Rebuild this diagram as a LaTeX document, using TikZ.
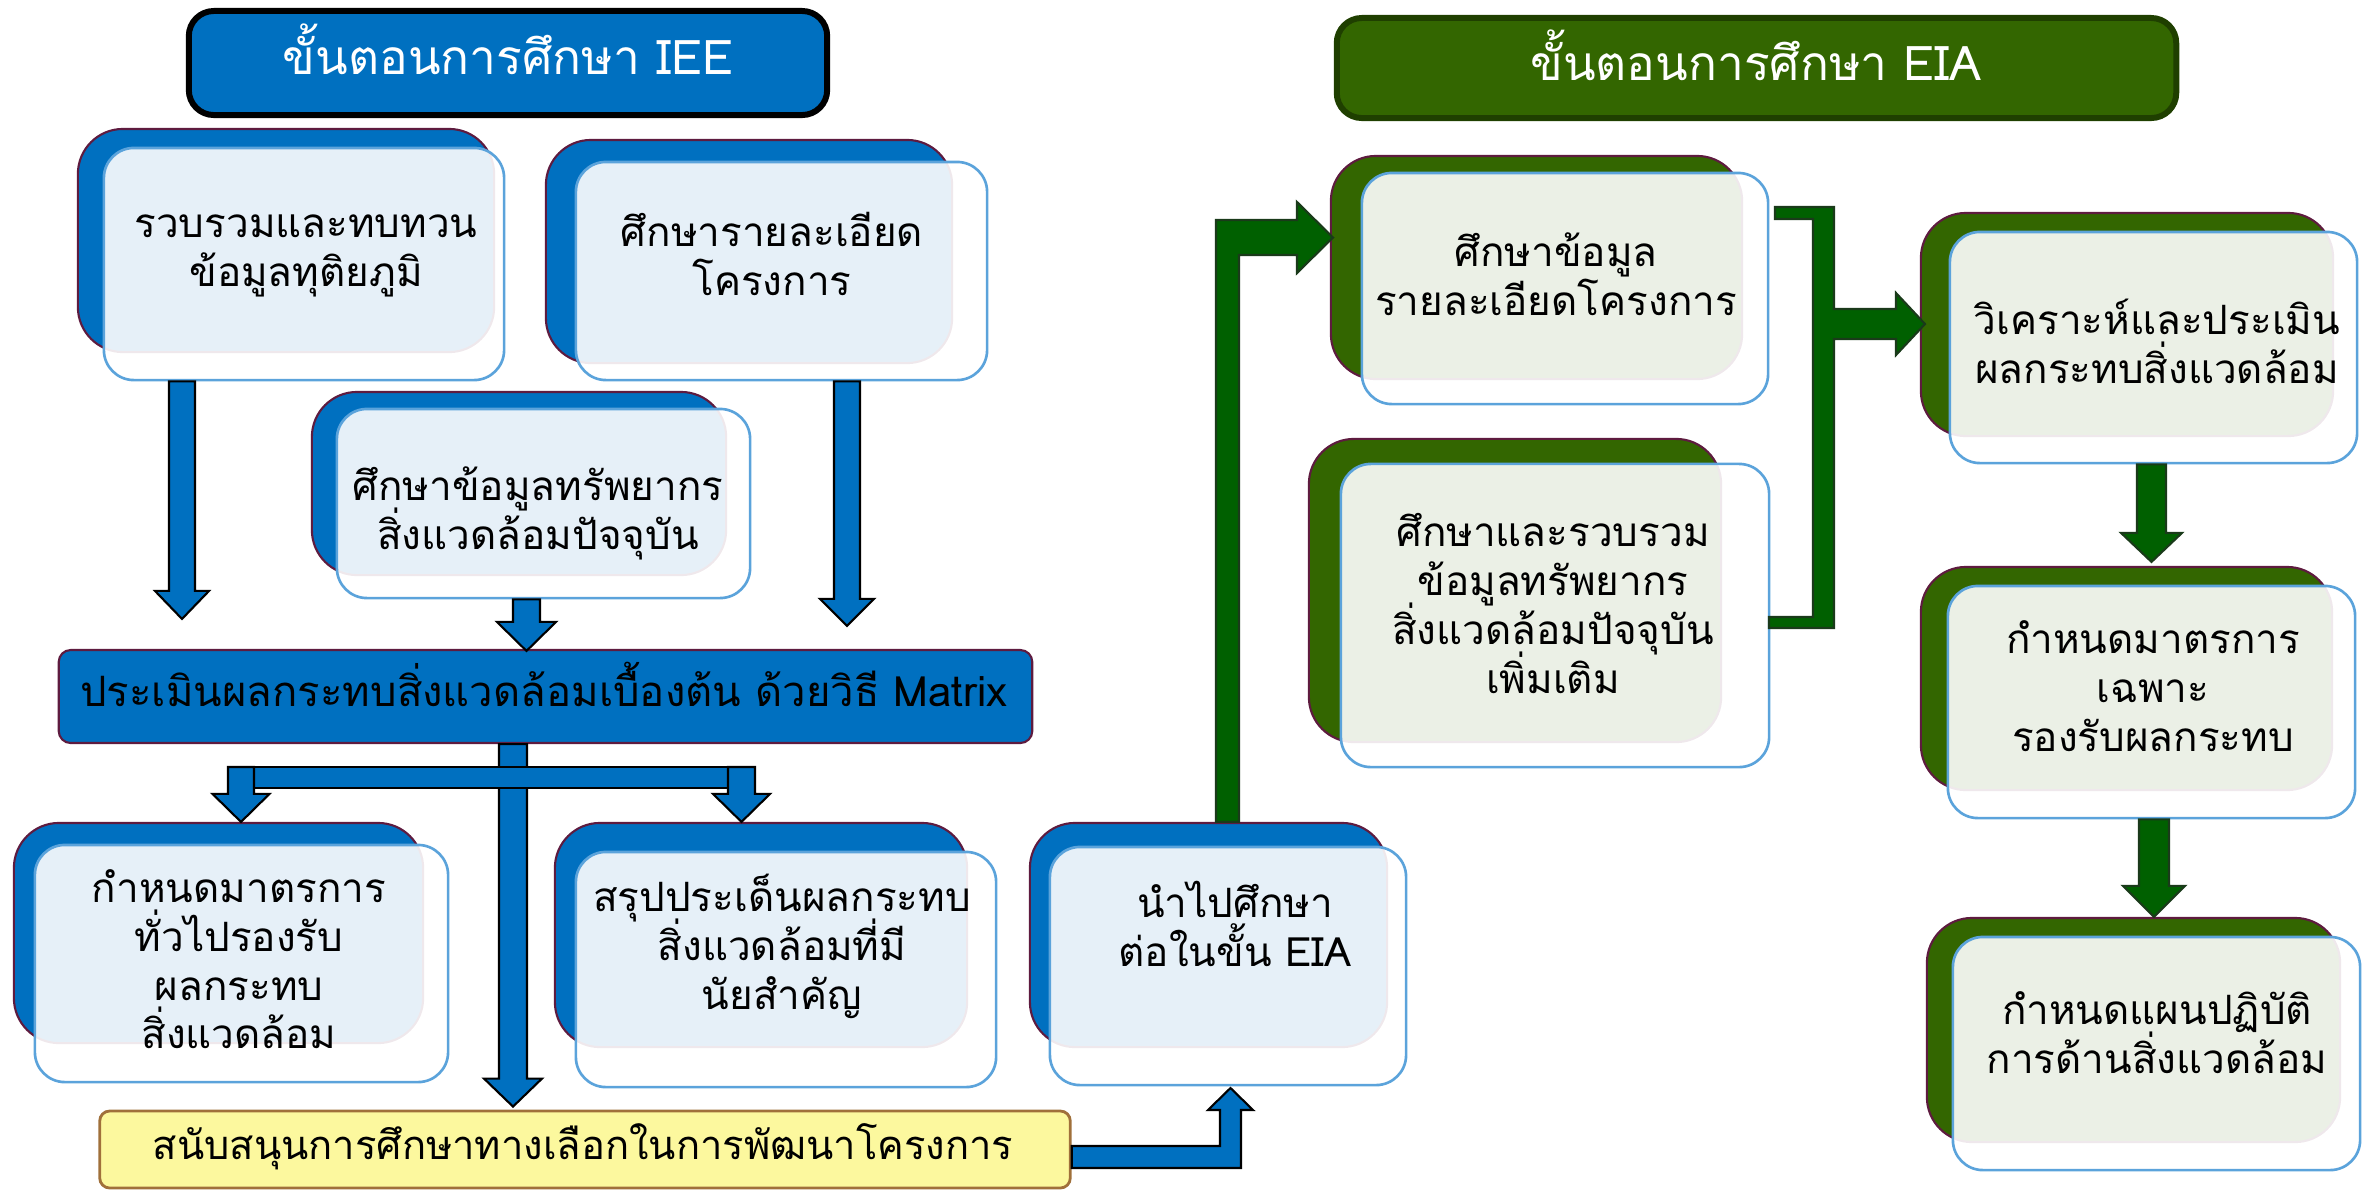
\documentclass[tikz,border=0pt]{standalone}
\usepackage{fontspec}
\newfontfamily\thaifont[Script=Thai]{Loma}
\usetikzlibrary{calc}
\definecolor{ieeblue}{HTML}{0070C0}
\definecolor{backline}{HTML}{5E1B3F}
\definecolor{frontline}{HTML}{5BA3DB}
\definecolor{eiagreen}{HTML}{336600}
\definecolor{eiatitleline}{HTML}{1F3F00}
\definecolor{arrowgreen}{HTML}{006000}
\definecolor{arrowgreenline}{HTML}{1A3A1A}
\definecolor{yellowfill}{HTML}{FCF89E}
\definecolor{yellowline}{HTML}{A0703A}
\newcommand\tstrut{\rule{0pt}{1.3em}}
\newcommand\bstrut{\rule[-0.75em]{0pt}{0pt}}
\newcommand\cardfont{\thaifont\fontsize{11.5}{13.9}\selectfont\lineskiplimit-50pt\relax\lineskip0pt\relax}
\newcommand\blkdown[6]{%
  \draw[#1] ($(#2)+(-#4,0)$) -- ($(#2)+(#4,0)$) -- ($(#3)+(#4,-#6)$) -- ($(#3)+(#5,-#6)$) -- (#3) -- ($(#3)+(-#5,-#6)$) -- ($(#3)+(-#4,-#6)$) -- cycle;}
\tikzset{
  strutted/.style={inner sep=0pt, execute at begin node={\tstrut}, execute at end node={\bstrut}},
  backbox/.style={draw=backline, line width=0.6pt, rounded corners=0.45cm, inner sep=0pt},
  frontbox/.style={draw=frontline, line width=0.75pt, fill=white, fill opacity=0.9, rounded corners=0.3cm, inner sep=0pt},
  cardtext/.style={inner sep=0pt, align=center, text=black, yshift=-0.04cm, font=\cardfont},
  titlebox/.style={rounded corners=0.25cm, line width=1.7pt, inner sep=0pt},
  titletext/.style={strutted, text=white, font=\thaifont\fontsize{13.6}{16}\selectfont},
  bluearrow/.style={fill=ieeblue, draw=black, line width=0.6pt},
  greenarrow/.style={fill=arrowgreen, draw=arrowgreenline, line width=0.6pt},
}
\begin{document}
\begin{tikzpicture}[x=0.01cm, y=-0.01cm]
\useasboundingbox (0,0) rectangle (2369,1196);
% titles
\node[titlebox, fill=ieeblue, draw=black, minimum width=6.38cm, minimum height=1.04cm] (ieetitle) at (508,63) {};
\node[titletext] (ieetitletext) at (508,61) {ขั้นตอนการศึกษา IEE};
\node[titlebox, fill=eiagreen, draw=eiatitleline, minimum width=8.39cm, minimum height=1.00cm] (eiatitle) at (1756.5,68) {};
\node[titletext] (eiatitletext) at (1756,67) {ขั้นตอนการศึกษา EIA};
% IEE cards
\node[backbox, fill=ieeblue, minimum width=4.16cm, minimum height=2.23cm] (Aback) at (286,240.5) {};
\node[frontbox, minimum width=4.00cm, minimum height=2.32cm] (Afront) at (304,264) {};
\node[cardtext] (Atext) at (306,247) {\tstrut รวบรวมและทบทวน\\ข้อมูลทุติยภูมิ\bstrut};
\node[backbox, fill=ieeblue, minimum width=4.06cm, minimum height=2.23cm] (Bback) at (749,251.5) {};
\node[frontbox, minimum width=4.11cm, minimum height=2.18cm] (Bfront) at (781.5,271) {};
\node[cardtext] (Btext) at (772,256) {\tstrut ศึกษารายละเอียด\\โครงการ\bstrut};
\node[backbox, fill=ieeblue, minimum width=4.14cm, minimum height=1.83cm] (Cback) at (519,483.5) {};
\node[frontbox, minimum width=4.13cm, minimum height=1.89cm] (Cfront) at (543.5,503.5) {};
\node[cardtext] (Ctext) at (538,509.5) {\tstrut ศึกษาข้อมูลทรัพยากร\\สิ่งแวดล้อมปัจจุบัน\bstrut};
% matrix
\node[draw=backline, fill=ieeblue, line width=0.6pt, rounded corners=0.12cm, minimum width=9.73cm, minimum height=0.93cm, inner sep=0pt] (matrix) at (545.5,696.5) {};
\node[strutted, text=black, font=\thaifont\fontsize{11.9}{14}\selectfont] (matrixtext) at (544,694.5) {ประเมินผลกระทบสิ่งแวดล้อมเบื้องต้น ด้วยวิธี Matrix};
% bottom IEE cards
\node[backbox, fill=ieeblue, minimum width=4.09cm, minimum height=2.20cm] (Dback) at (218.5,933) {};
\node[frontbox, minimum width=4.13cm, minimum height=2.37cm] (Dfront) at (241.5,963.5) {};
\node[cardtext] (Dtext) at (239,960.5) {\tstrut กำหนดมาตรการ\\ทั่วไปรองรับ\\ผลกระทบ\\สิ่งแวดล้อม\bstrut};
\node[backbox, fill=ieeblue, minimum width=4.12cm, minimum height=2.24cm] (Eback) at (761,935) {};
\node[frontbox, minimum width=4.20cm, minimum height=2.35cm] (Efront) at (786,969.5) {};
\node[cardtext] (Etext) at (782,945) {\tstrut สรุปประเด็นผลกระทบ\\สิ่งแวดล้อมที่มี\\นัยสำคัญ\bstrut};
\node[backbox, fill=ieeblue, minimum width=3.57cm, minimum height=2.24cm] (Fback) at (1208.5,935) {};
\node[frontbox, minimum width=3.56cm, minimum height=2.38cm] (Ffront) at (1228,966) {};
\node[cardtext] (Ftext) at (1235,927) {\tstrut นำไปศึกษา\\ต่อในขั้น EIA\bstrut};
% yellow
\node[draw=yellowline, fill=yellowfill, line width=0.8pt, rounded corners=0.1cm, minimum width=9.70cm, minimum height=0.77cm, inner sep=0pt] (yellow) at (585,1149.5) {};
\node[strutted, text=black, font=\thaifont\fontsize{11.35}{14}\selectfont] (yellowtext) at (583,1149) {สนับสนุนการศึกษาทางเลือกในการพัฒนาโครงการ};
% EIA cards
\node[backbox, fill=eiagreen, minimum width=4.11cm, minimum height=2.23cm] (Gback) at (1536.5,267.5) {};
\node[frontbox, minimum width=4.06cm, minimum height=2.31cm] (Gfront) at (1565,288.5) {};
\node[cardtext] (Gtext) at (1556,275.5) {\tstrut ศึกษาข้อมูล\\รายละเอียดโครงการ\bstrut};
\node[backbox, fill=eiagreen, minimum width=4.12cm, minimum height=3.03cm] (Hback) at (1515,590.5) {};
\node[frontbox, minimum width=4.28cm, minimum height=3.03cm] (Hfront) at (1555,615.5) {};
\node[cardtext] (Htext) at (1553,605) {\tstrut ศึกษาและรวบรวม\\ข้อมูลทรัพยากร\\สิ่งแวดล้อมปัจจุบัน\\เพิ่มเติม\bstrut};
\node[backbox, fill=eiagreen, minimum width=4.12cm, minimum height=2.23cm] (Iback) at (2127,324.5) {};
\node[frontbox, minimum width=4.07cm, minimum height=2.31cm] (Ifront) at (2153.5,347.5) {};
\node[cardtext] (Itext) at (2157,343.5) {\tstrut วิเคราะห์และประเมิน\\ผลกระทบสิ่งแวดล้อม\bstrut};
\node[backbox, fill=eiagreen, minimum width=4.11cm, minimum height=2.23cm] (Jback) at (2126.5,678.5) {};
\node[frontbox, minimum width=4.07cm, minimum height=2.32cm] (Jfront) at (2151.5,702) {};
\node[cardtext] (Jtext) at (2153,687) {\tstrut กำหนดมาตรการ\\เฉพาะ\\รองรับผลกระทบ\bstrut};
\node[backbox, fill=eiagreen, minimum width=4.13cm, minimum height=2.24cm] (Kback) at (2133.5,1030) {};
\node[frontbox, minimum width=4.07cm, minimum height=2.33cm] (Kfront) at (2156.5,1053.5) {};
\node[cardtext] (Ktext) at (2157,1033.5) {\tstrut กำหนดแผนปฏิบัติ\\การด้านสิ่งแวดล้อม\bstrut};
% arrow coordinates
\coordinate (xA) at (182,0);
\coordinate (xB) at (847,0);
\coordinate (xC) at (526.5,0);
\coordinate (xM) at (513,0);
\coordinate (xD) at (241,0);
\coordinate (xE) at (741.5,0);
\coordinate (xI) at (2151.5,0);
\coordinate (xJ) at (2154,0);
\coordinate (xFG) at (1227.5,0);
\coordinate (yBar) at (0,767);
\coordinate (yYF) at (0,1157);
\coordinate (a1) at (Afront.south -| xA);
\coordinate (a2) at ($(matrix.north -| xA)+(0,-30)$);
\coordinate (b1) at (Bfront.south -| xB);
\coordinate (b2) at ($(matrix.north -| xB)+(0,-23)$);
\coordinate (c1) at (Cfront.south -| xC);
\coordinate (c2) at ($(matrix.north -| xC)+(0,2)$);
\coordinate (m1) at (matrix.south -| xM);
\coordinate (m2) at ($(yellow.north -| xM)+(0,-3)$);
\coordinate (d1) at (yBar -| xD);
\coordinate (d2) at (Dback.north -| xD);
\coordinate (e1) at (yBar -| xE);
\coordinate (e2) at (Eback.north -| xE);
\coordinate (i1) at (Ifront.south -| xI);
\coordinate (i2) at ($(Jback.north -| xI)+(0,-4)$);
\coordinate (j1) at (Jfront.south -| xJ);
\coordinate (j2) at (Kback.north -| xJ);
% blue arrows
\blkdown{bluearrow}{a1}{a2}{13}{27}{28}
\blkdown{bluearrow}{b1}{b2}{13}{27}{27}
\blkdown{bluearrow}{c1}{c2}{13.5}{29.5}{29}
\blkdown{bluearrow}{m1}{m2}{14}{29}{28}
\draw[bluearrow] (229,767) rectangle (755,788);
\blkdown{bluearrow}{d1}{d2}{13}{28.5}{28}
\blkdown{bluearrow}{e1}{e2}{13.5}{28.5}{28}
% yellow -> F
\coordinate (yfS) at (yellow.east |- yYF);
\coordinate (yfT) at (1230.5,1088);
\draw[bluearrow] ($(yfS)+(0,-11)$) -- ($(yfT)+(-10.5,58)$) -- ($(yfT)+(-10.5,22)$) -- ($(yfT)+(-22.5,22)$) -- (yfT) -- ($(yfT)+(22.5,22)$) -- ($(yfT)+(10.5,22)$) -- ($(yfT)+(10.5,80)$) -- ($(yfS)+(0,11)$) -- cycle;
% F -> G
\coordinate (fgS) at (Fback.north -| xFG);
\coordinate (fgT) at (1333,237.5);
\draw[greenarrow] ($(fgS)+(-11.5,0)$) |- ($(fgT)+(-36,-17.5)$) -- ++(0,-18) -- (fgT) -- ($(fgT)+(-36,35.5)$) -- ++(0,-18) -| ($(fgS)+(11.5,0)$) -- cycle;
% G,H -> I
\coordinate (ghT) at (1925,324);
\draw[greenarrow] (1775,207) -- (1834,207) -- (1834,309) -- (1896,309) -- (1896,293) -- (ghT) -- (1896,355) -- (1896,339) -- (1834,339) -- (1834,628) -- (1769,628) -- (1769,617) -- (1813,617) -- (1813,219) -- (1775,219) -- cycle;
% green down arrows
\blkdown{greenarrow}{i1}{i2}{14.5}{30.5}{29}
\blkdown{greenarrow}{j1}{j2}{15}{31}{31}
\end{tikzpicture}
\end{document}
